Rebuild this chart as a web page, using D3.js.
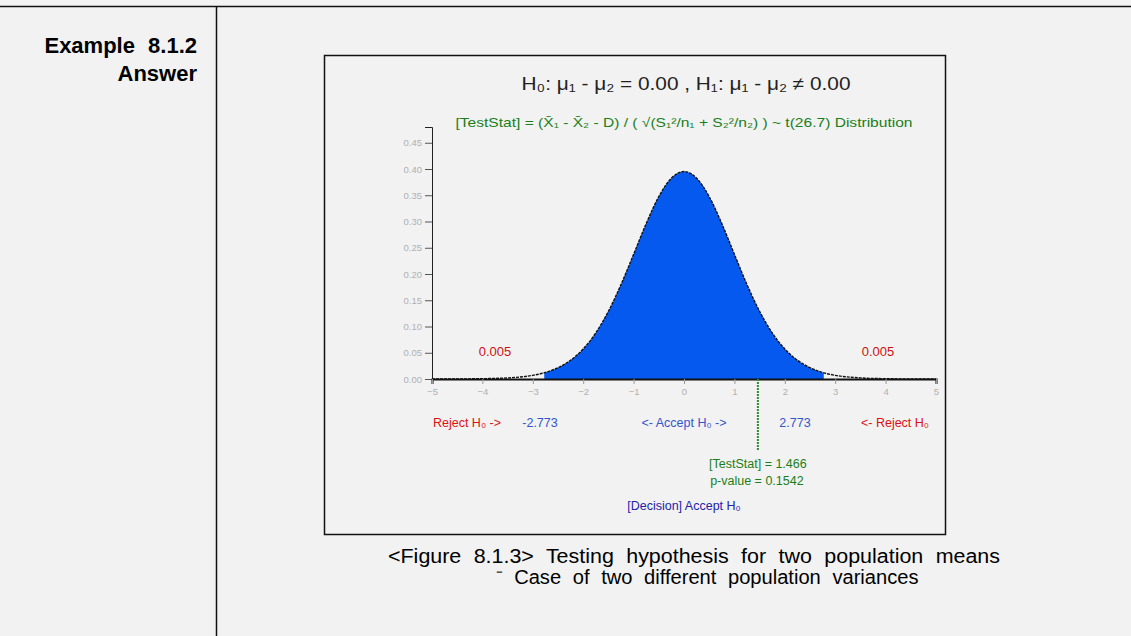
<!DOCTYPE html>
<html>
<head>
    <meta charset="utf-8">
    <title>Testing hypothesis for two population means</title>
    <script src="https://d3js.org/d3.v7.min.js"></script>
    <style>
        body { margin: 0; background: #f2f2f2; font-family: Arial, "Liberation Sans", sans-serif; }
        .tick text { fill: #b0b0b0; font-size: 9.5px; }
    </style>
</head>
<body>
<div id="chart"></div>
<script>
    // t(26.7) density
    const tValues = [-5, -4.5, -4, -3.5, -3, -2.773, -2.75, -2.5, -2.25, -2, -1.75, -1.5, -1.25, -1, -0.75, -0.5, -0.25, 0,
        0.25, 0.5, 0.75, 1, 1.25, 1.5, 1.75, 2, 2.25, 2.5, 2.75, 2.773, 3, 3.5, 4, 4.5, 5];
    const density = [0.00004, 0.00016, 0.0006, 0.0021, 0.0070, 0.0118, 0.0125, 0.0215, 0.0357, 0.0571, 0.0878, 0.1288, 0.1797, 0.2374, 0.2960, 0.3473, 0.3825, 0.3951,
        0.3825, 0.3473, 0.2960, 0.2374, 0.1797, 0.1288, 0.0878, 0.0571, 0.0357, 0.0215, 0.0125, 0.0118, 0.0070, 0.0021, 0.0006, 0.00016, 0.00004];
    const xTicks = [-5, -4, -3, -2, -1, 0, 1, 2, 3, 4, 5];
    const yTicks = [0, 0.05, 0.10, 0.15, 0.20, 0.25, 0.30, 0.35, 0.40, 0.45];
    const critical = 2.773;
    const testStat = 1.466;
    const pValue = 0.1542;
    const tailArea = 0.005;

    const width = 1131, height = 636;
    const svg = d3.select("#chart").append("svg")
        .attr("width", width)
        .attr("height", height);

    svg.append("rect").attr("width", width).attr("height", height).attr("fill", "#f2f2f2");

    // page frame
    svg.append("line").attr("x1", 0).attr("x2", width).attr("y1", 6.5).attr("y2", 6.5)
        .attr("stroke", "#111").attr("stroke-width", 1.5);
    svg.append("line").attr("x1", 216.5).attr("x2", 216.5).attr("y1", 6).attr("y2", height)
        .attr("stroke", "#111").attr("stroke-width", 1.5);

    svg.append("text").attr("x", 197).attr("y", 53).attr("text-anchor", "end")
        .style("font-weight", "bold").style("font-size", "22px").style("word-spacing", "7px")
        .text("Example 8.1.2");
    svg.append("text").attr("x", 197).attr("y", 81).attr("text-anchor", "end")
        .style("font-weight", "bold").style("font-size", "22px")
        .text("Answer");

    // chart box
    svg.append("rect").attr("x", 324.5).attr("y", 55.5).attr("width", 621).attr("height", 479)
        .attr("fill", "#f2f2f2").attr("stroke", "#111").attr("stroke-width", 1.5);

    var x = d3.scaleLinear().domain([-5, 5]).range([432, 936]);
    var y = d3.scaleLinear().domain([0, 0.48]).range([379, 127]);

    const pts = tValues.map((t, i) => ({ t: t, d: density[i] }));

    // accept region
    const area = d3.area()
        .x(d => x(d.t)).y0(y(0)).y1(d => y(d.d))
        .curve(d3.curveMonotoneX);
    svg.append("path")
        .datum(pts.filter(p => Math.abs(p.t) <= critical))
        .attr("d", area)
        .attr("fill", "#0659ee");

    const line = d3.line().x(d => x(d.t)).y(d => y(d.d)).curve(d3.curveMonotoneX);
    svg.append("path").datum(pts).attr("d", line)
        .attr("fill", "none").attr("stroke", "#111").attr("stroke-width", 1.4)
        .attr("stroke-dasharray", "3,1");

    // axes
    const yAxis = svg.append("g")
        .attr("transform", "translate(" + x(-5) + ",0)")
        .call(d3.axisLeft(y).tickValues(yTicks).tickFormat(d3.format(".2f")).tickSize(7).tickSizeOuter(7));
    yAxis.select(".domain").attr("stroke", "#222");
    yAxis.selectAll(".tick line").attr("stroke", "#555");

    const xAxis = svg.append("g")
        .attr("transform", "translate(0," + y(0) + ")")
        .call(d3.axisBottom(x).tickValues(xTicks).tickSize(5).tickSizeOuter(5).tickPadding(4));
    xAxis.select(".domain").attr("stroke", "#111").attr("stroke-width", 2);
    xAxis.selectAll(".tick line").attr("stroke", "#999");

    // test statistic marker
    svg.append("line")
        .attr("x1", x(testStat)).attr("x2", x(testStat))
        .attr("y1", y(0)).attr("y2", 451)
        .attr("stroke", "#2e8b2e").attr("stroke-width", 2).attr("stroke-dasharray", "2,1");

    function label(tx, ty, txt, color, size) {
        return svg.append("text").attr("x", tx).attr("y", ty).attr("text-anchor", "middle")
            .attr("fill", color).style("font-size", size + "px").text(txt);
    }

    label(686, 90, "H\u2080: \u03bc\u2081 - \u03bc\u2082 = 0.00 , H\u2081: \u03bc\u2081 - \u03bc\u2082 \u2260 0.00", "#222", 18)
        .attr("textLength", 329).attr("lengthAdjust", "spacingAndGlyphs");
    label(684, 127, "[TestStat] = (X\u0304\u2081 - X\u0304\u2082 - D) / ( \u221a(S\u2081\u00b2/n\u2081 + S\u2082\u00b2/n\u2082) ) ~ t(26.7) Distribution", "#1a7f1a", 13)
        .attr("textLength", 457).attr("lengthAdjust", "spacingAndGlyphs");

    label(495, 356, tailArea.toFixed(3), "#cc1111", 13);
    label(878, 356, tailArea.toFixed(3), "#cc1111", 13);

    label(467, 427, "Reject H\u2080 ->", "#d11", 12.5);
    label(540, 427, (-critical).toFixed(3), "#3355cc", 12.5);
    label(684, 427, "<- Accept H\u2080 ->", "#3355cc", 12.5);
    label(795, 427, critical.toFixed(3), "#3355cc", 12.5);
    label(895, 427, "<- Reject H\u2080", "#d11", 12.5);

    label(x(testStat), 468, "[TestStat] = " + testStat.toFixed(3), "#1a7f1a", 12.5);
    label(x(testStat) - 1, 485, "p-value = " + pValue.toFixed(4), "#1a7f1a", 12.5);
    label(684, 510, "[Decision] Accept H\u2080", "#2222aa", 12.5);

    // caption
    svg.append("text").attr("x", 694).attr("y", 563).attr("text-anchor", "middle")
        .style("font-size", "20px").style("word-spacing", "6px")
        .attr("textLength", 612).attr("lengthAdjust", "spacingAndGlyphs")
        .text("<Figure 8.1.3> Testing hypothesis for two population means");
    svg.append("text").attr("x", 707).attr("y", 584).attr("text-anchor", "middle")
        .style("font-size", "20px").style("word-spacing", "6px")
        .attr("textLength", 423).attr("lengthAdjust", "spacingAndGlyphs")
        .text("\u207b Case of two different population variances");
</script>
</body>
</html>
